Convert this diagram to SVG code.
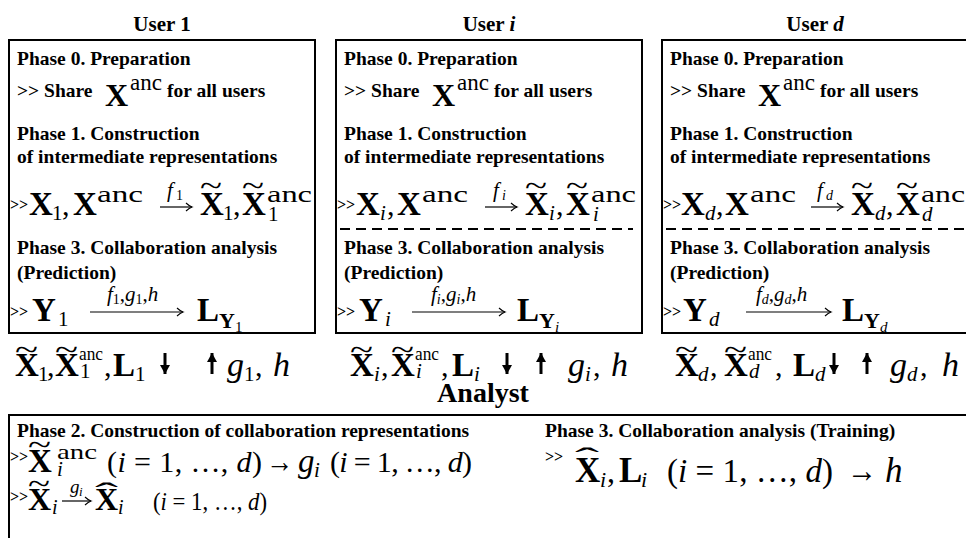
<svg xmlns="http://www.w3.org/2000/svg" width="966" height="538" viewBox="0 0 966 538">
<style>
  text { font-family: "Liberation Serif", "Times New Roman", serif; fill: #000; }
  .ttl { font-size: 21px; font-weight: bold; text-anchor: middle; }
  .h { font-size: 19.5px; font-weight: bold; }
  .gt { font-size: 16px; font-weight: bold; font-style: normal; }
  .mb { font-weight: bold; font-style: normal; }
  .mr { font-weight: normal; font-style: normal; }
  .mi { font-weight: normal; font-style: italic; }
  .box { fill: none; stroke: #000; stroke-width: 2; }
  .dash { stroke: #000; stroke-width: 2; stroke-dasharray: 10 6; }
  .xarr { stroke: #000; stroke-width: 1.2; fill: none; marker-end: url(#xhead); }
  .flow { stroke: #000; stroke-width: 3; }
  .down { marker-end: url(#bhead); }
  .up { marker-start: url(#bheadUp); }
</style>
<defs>
  <!-- thin curved arrowhead for labelled maps -->
  <marker id="xhead" markerUnits="userSpaceOnUse" viewBox="-8 -5 9 10" refX="0" refY="0" markerWidth="9" markerHeight="10" orient="auto" overflow="visible">
    <path d="M-6,-4 C-3,-1.2 -1.2,-0.4 0,0 C-1.2,0.4 -3,1.2 -6,4" fill="none" stroke="#000" stroke-width="1.1"/>
  </marker>
  <!-- solid heads for the data flow arrows -->
  <marker id="bhead" markerUnits="userSpaceOnUse" viewBox="-10 -6 11 12" refX="0" refY="0" markerWidth="11" markerHeight="12" orient="auto" overflow="visible">
    <path d="M0,0 L-9,-5 L-9,5 Z" fill="#000"/>
  </marker>
  <marker id="bheadUp" markerUnits="userSpaceOnUse" viewBox="-1 -6 11 12" refX="0" refY="0" markerWidth="11" markerHeight="12" orient="auto" overflow="visible">
    <path d="M0,0 L9,-5 L9,5 Z" fill="#000"/>
  </marker>
</defs>

<!-- ===== User 1 ===== -->
<g id="user-1">
  <text class="ttl" x="162" y="31">User 1</text>
  <rect class="box" x="9" y="40" width="306" height="293"/>
  <text class="h" x="17" y="65">Phase 0. Preparation</text>
  <text class="h" x="17" y="97">&gt;&gt; Share<tspan class="mb" x="105" y="106" font-size="32">X</tspan><tspan class="mr" x="130" y="90" font-size="23">anc</tspan><tspan x="167" y="97">for all users</tspan></text>
  <text class="h" x="17" y="140">Phase 1. Construction</text>
  <text class="h" x="17" y="163">of intermediate representations</text>
  <text font-size="33"><tspan class="gt" x="10" y="210">&gt;&gt;</tspan><tspan class="mb" x="29" y="215">X</tspan><tspan class="mr" x="52" y="220" font-size="21">1</tspan><tspan class="mr" x="62" y="215" font-size="30">,</tspan><tspan class="mb" x="73" y="215">X</tspan><tspan class="mr" x="97" y="202" font-size="23" textLength="46" lengthAdjust="spacingAndGlyphs">anc</tspan></text>
  <line class="xarr" x1="160" y1="207" x2="192" y2="207"/>
  <text class="mi" x="167" y="197" font-size="21">f<tspan class="mr" x="176" y="200" font-size="14">1</tspan></text>
  <text font-size="33"><tspan class="mr" x="200" y="196" font-size="30" textLength="22" lengthAdjust="spacingAndGlyphs">~</tspan><tspan class="mb" x="200" y="215">X</tspan><tspan class="mr" x="223" y="220" font-size="21">1</tspan><tspan class="mr" x="233" y="215" font-size="30">,</tspan><tspan class="mr" x="242" y="196" font-size="30" textLength="22" lengthAdjust="spacingAndGlyphs">~</tspan><tspan class="mb" x="242" y="215">X</tspan><tspan class="mr" x="267" y="202" font-size="23" textLength="45" lengthAdjust="spacingAndGlyphs">anc</tspan><tspan class="mr" x="268" y="221" font-size="21">1</tspan></text>
  <text class="h" x="17" y="254">Phase 3. Collaboration analysis</text>
  <text class="h" x="17" y="279">(Prediction)</text>
  <text font-size="33"><tspan class="gt" x="10" y="317">&gt;&gt;</tspan><tspan class="mb" x="32" y="321">Y</tspan><tspan class="mr" x="58" y="326" font-size="21">1</tspan></text>
  <line class="xarr" x1="90" y1="312" x2="183" y2="312"/>
  <text x="107" y="301" font-size="21"><tspan class="mi">f</tspan><tspan class="mr" font-size="14" dy="3">1</tspan><tspan class="mr" dy="-3">,</tspan><tspan class="mi">g</tspan><tspan class="mr" font-size="14" dy="3">1</tspan><tspan class="mr" dy="-3">,</tspan><tspan class="mi">h</tspan></text>
  <text font-size="33"><tspan class="mb" x="197" y="321">L</tspan><tspan class="mb" x="219" y="328" font-size="22">Y</tspan><tspan class="mr" x="235" y="332" font-size="15">1</tspan></text>
</g>

<!-- ===== User i ===== -->
<g id="user-i" transform="translate(327,0)">
  <text class="ttl" x="162" y="31">User <tspan font-style="italic">i</tspan></text>
  <rect class="box" x="9" y="40" width="306" height="293"/>
  <text class="h" x="17" y="65">Phase 0. Preparation</text>
  <text class="h" x="17" y="97">&gt;&gt; Share<tspan class="mb" x="105" y="106" font-size="32">X</tspan><tspan class="mr" x="130" y="90" font-size="23">anc</tspan><tspan x="167" y="97">for all users</tspan></text>
  <text class="h" x="17" y="140">Phase 1. Construction</text>
  <text class="h" x="17" y="163">of intermediate representations</text>
  <text font-size="33"><tspan class="gt" x="10" y="210">&gt;&gt;</tspan><tspan class="mb" x="29" y="215">X</tspan><tspan class="mi" x="53" y="220" font-size="21">i</tspan><tspan class="mr" x="60" y="215" font-size="30">,</tspan><tspan class="mb" x="70" y="215">X</tspan><tspan class="mr" x="95" y="202" font-size="23" textLength="46" lengthAdjust="spacingAndGlyphs">anc</tspan></text>
  <line class="xarr" x1="158" y1="207" x2="190" y2="207"/>
  <text class="mi" x="166" y="197" font-size="21">f<tspan x="175" y="200" font-size="14">i</tspan></text>
  <text font-size="33"><tspan class="mr" x="198" y="196" font-size="30" textLength="22" lengthAdjust="spacingAndGlyphs">~</tspan><tspan class="mb" x="198" y="215">X</tspan><tspan class="mi" x="222" y="220" font-size="21">i</tspan><tspan class="mr" x="229" y="215" font-size="30">,</tspan><tspan class="mr" x="239" y="196" font-size="30" textLength="22" lengthAdjust="spacingAndGlyphs">~</tspan><tspan class="mb" x="239" y="215">X</tspan><tspan class="mr" x="264" y="202" font-size="23" textLength="45" lengthAdjust="spacingAndGlyphs">anc</tspan><tspan class="mi" x="266" y="221" font-size="21">i</tspan></text>
  <line class="dash" x1="13" y1="229" x2="306" y2="229"/>
  <text class="h" x="17" y="254">Phase 3. Collaboration analysis</text>
  <text class="h" x="17" y="279">(Prediction)</text>
  <text font-size="33"><tspan class="gt" x="10" y="317">&gt;&gt;</tspan><tspan class="mb" x="32" y="321">Y</tspan><tspan class="mi" x="58" y="326" font-size="21">i</tspan></text>
  <line class="xarr" x1="85" y1="312" x2="178" y2="312"/>
  <text x="104" y="301" font-size="21"><tspan class="mi">f</tspan><tspan class="mi" font-size="14" dy="3">i</tspan><tspan class="mr" dy="-3">,</tspan><tspan class="mi">g</tspan><tspan class="mi" font-size="14" dy="3">i</tspan><tspan class="mr" dy="-3">,</tspan><tspan class="mi">h</tspan></text>
  <text font-size="33"><tspan class="mb" x="190" y="321">L</tspan><tspan class="mb" x="212" y="328" font-size="22">Y</tspan><tspan class="mi" x="228" y="332" font-size="15">i</tspan></text>
</g>

<!-- ===== User d ===== -->
<g id="user-d" transform="translate(653,0)">
  <text class="ttl" x="162" y="31">User <tspan font-style="italic">d</tspan></text>
  <rect class="box" x="9" y="40" width="306" height="293"/>
  <text class="h" x="17" y="65">Phase 0. Preparation</text>
  <text class="h" x="17" y="97">&gt;&gt; Share<tspan class="mb" x="105" y="106" font-size="32">X</tspan><tspan class="mr" x="130" y="90" font-size="23">anc</tspan><tspan x="167" y="97">for all users</tspan></text>
  <text class="h" x="17" y="140">Phase 1. Construction</text>
  <text class="h" x="17" y="163">of intermediate representations</text>
  <text font-size="33"><tspan class="gt" x="10" y="210">&gt;&gt;</tspan><tspan class="mb" x="28" y="215">X</tspan><tspan class="mi" x="52" y="220" font-size="21">d</tspan><tspan class="mr" x="63" y="215" font-size="30">,</tspan><tspan class="mb" x="72" y="215">X</tspan><tspan class="mr" x="97" y="202" font-size="23" textLength="46" lengthAdjust="spacingAndGlyphs">anc</tspan></text>
  <line class="xarr" x1="158" y1="207" x2="190" y2="207"/>
  <text class="mi" x="164" y="197" font-size="21">f<tspan x="173" y="200" font-size="14">d</tspan></text>
  <text font-size="33"><tspan class="mr" x="198" y="196" font-size="30" textLength="22" lengthAdjust="spacingAndGlyphs">~</tspan><tspan class="mb" x="198" y="215">X</tspan><tspan class="mi" x="222" y="220" font-size="21">d</tspan><tspan class="mr" x="233" y="215" font-size="30">,</tspan><tspan class="mr" x="243" y="196" font-size="30" textLength="22" lengthAdjust="spacingAndGlyphs">~</tspan><tspan class="mb" x="243" y="215">X</tspan><tspan class="mr" x="268" y="202" font-size="23" textLength="44" lengthAdjust="spacingAndGlyphs">anc</tspan><tspan class="mi" x="269" y="221" font-size="21">d</tspan></text>
  <line class="dash" x1="13" y1="229" x2="312" y2="229"/>
  <text class="h" x="17" y="254">Phase 3. Collaboration analysis</text>
  <text class="h" x="17" y="279">(Prediction)</text>
  <text font-size="33"><tspan class="gt" x="10" y="317">&gt;&gt;</tspan><tspan class="mb" x="30" y="321">Y</tspan><tspan class="mi" x="56" y="326" font-size="21">d</tspan></text>
  <line class="xarr" x1="93" y1="312" x2="178" y2="312"/>
  <text x="103" y="301" font-size="21"><tspan class="mi">f</tspan><tspan class="mi" font-size="14" dy="3">d</tspan><tspan class="mr" dy="-3">,</tspan><tspan class="mi">g</tspan><tspan class="mi" font-size="14" dy="3">d</tspan><tspan class="mr" dy="-3">,</tspan><tspan class="mi">h</tspan></text>
  <text font-size="33"><tspan class="mb" x="189" y="321">L</tspan><tspan class="mb" x="211" y="328" font-size="22">Y</tspan><tspan class="mi" x="227" y="332" font-size="15">d</tspan></text>
</g>

<!-- ===== Exchanges between users and analyst ===== -->
<g id="connectors">
  <!-- user 1: sends representations, receives g1 and h -->
  <text font-size="33"><tspan class="mr" x="15" y="360" font-size="30" textLength="23" lengthAdjust="spacingAndGlyphs">~</tspan><tspan class="mb" x="15" y="376">X</tspan><tspan class="mr" x="38" y="381" font-size="21">1</tspan><tspan class="mr" x="47" y="376" font-size="30">,</tspan><tspan class="mr" x="55" y="360" font-size="30" textLength="23" lengthAdjust="spacingAndGlyphs">~</tspan><tspan class="mb" x="55" y="376">X</tspan><tspan class="mr" x="79" y="360" font-size="19" textLength="24" lengthAdjust="spacingAndGlyphs">anc</tspan><tspan class="mr" x="80" y="378" font-size="21">1</tspan><tspan class="mr" x="104" y="376" font-size="30">,</tspan><tspan class="mb" x="113" y="376">L</tspan><tspan class="mr" x="135" y="381" font-size="21">1</tspan></text>
  <line class="flow down" x1="165" y1="353" x2="165" y2="374"/>
  <line class="flow up" x1="212" y1="353" x2="212" y2="374"/>
  <text font-size="34"><tspan class="mi" x="227" y="376">g</tspan><tspan class="mr" x="244" y="381" font-size="21">1</tspan><tspan class="mr" x="255" y="376" font-size="30">,</tspan><tspan class="mi" x="273" y="376">h</tspan></text>

  <!-- user i -->
  <text font-size="33"><tspan class="mr" x="350" y="360" font-size="30" textLength="23" lengthAdjust="spacingAndGlyphs">~</tspan><tspan class="mb" x="350" y="376">X</tspan><tspan class="mi" x="374" y="381" font-size="21">i</tspan><tspan class="mr" x="381" y="376" font-size="30">,</tspan><tspan class="mr" x="391" y="360" font-size="30" textLength="23" lengthAdjust="spacingAndGlyphs">~</tspan><tspan class="mb" x="391" y="376">X</tspan><tspan class="mr" x="415" y="360" font-size="19" textLength="24" lengthAdjust="spacingAndGlyphs">anc</tspan><tspan class="mi" x="416" y="378" font-size="21">i</tspan><tspan class="mr" x="441" y="376" font-size="30">,</tspan><tspan class="mb" x="452" y="376">L</tspan><tspan class="mi" x="474" y="381" font-size="21">i</tspan></text>
  <line class="flow down" x1="507" y1="353" x2="507" y2="374"/>
  <line class="flow up" x1="541" y1="353" x2="541" y2="374"/>
  <text font-size="34"><tspan class="mi" x="568" y="376">g</tspan><tspan class="mi" x="585" y="381" font-size="21">i</tspan><tspan class="mr" x="593" y="376" font-size="30">,</tspan><tspan class="mi" x="611" y="376">h</tspan></text>

  <!-- user d -->
  <text font-size="33"><tspan class="mr" x="675" y="360" font-size="30" textLength="23" lengthAdjust="spacingAndGlyphs">~</tspan><tspan class="mb" x="675" y="376">X</tspan><tspan class="mi" x="698" y="381" font-size="21">d</tspan><tspan class="mr" x="710" y="376" font-size="30">,</tspan><tspan class="mr" x="724" y="360" font-size="30" textLength="23" lengthAdjust="spacingAndGlyphs">~</tspan><tspan class="mb" x="724" y="376">X</tspan><tspan class="mr" x="748" y="360" font-size="19" textLength="24" lengthAdjust="spacingAndGlyphs">anc</tspan><tspan class="mi" x="749" y="378" font-size="21">d</tspan><tspan class="mr" x="775" y="376" font-size="30">,</tspan><tspan class="mb" x="793" y="376">L</tspan><tspan class="mi" x="815" y="381" font-size="21">d</tspan></text>
  <line class="flow down" x1="834" y1="353" x2="834" y2="374"/>
  <line class="flow up" x1="867" y1="353" x2="867" y2="374"/>
  <text font-size="34"><tspan class="mi" x="890" y="376">g</tspan><tspan class="mi" x="907" y="381" font-size="21">d</tspan><tspan class="mr" x="920" y="376" font-size="30">,</tspan><tspan class="mi" x="942" y="376">h</tspan></text>
</g>

<!-- ===== Analyst ===== -->
<g id="analyst">
  <text x="483" y="402" font-size="28" font-weight="bold" text-anchor="middle">Analyst</text>
  <rect class="box" x="9" y="415" width="962" height="140"/>
  <text class="h" x="17" y="437">Phase 2. Construction of collaboration representations</text>
  <text class="h" x="545" y="437">Phase 3. Collaboration analysis (Training)</text>

  <!-- anchor maps g_i -->
  <text font-size="33"><tspan class="gt" x="10" y="462">&gt;&gt;</tspan><tspan class="mr" x="28" y="455" font-size="30" textLength="23" lengthAdjust="spacingAndGlyphs">~</tspan><tspan class="mb" x="28" y="472">X</tspan><tspan class="mr" x="57" y="459" font-size="21" textLength="40" lengthAdjust="spacingAndGlyphs">anc</tspan><tspan class="mi" x="57" y="476" font-size="21">i</tspan></text>
  <text x="107" y="472" font-size="30" textLength="155" lengthAdjust="spacing">(<tspan font-style="italic">i</tspan> = 1, …, <tspan font-style="italic">d</tspan>)</text>
  <text font-size="33"><tspan class="mr" x="266" y="472" font-size="32" textLength="27" lengthAdjust="spacingAndGlyphs">→</tspan><tspan class="mi" x="298" y="472">g</tspan><tspan class="mi" x="314" y="477" font-size="21">i</tspan></text>
  <text x="330" y="472" font-size="30" textLength="142" lengthAdjust="spacing">(<tspan font-style="italic">i</tspan> = 1, …, <tspan font-style="italic">d</tspan>)</text>

  <!-- collaboration representations -->
  <text font-size="32"><tspan class="gt" x="10" y="502">&gt;&gt;</tspan><tspan class="mr" x="28" y="494" font-size="30" textLength="22" lengthAdjust="spacingAndGlyphs">~</tspan><tspan class="mb" x="28" y="510">X</tspan><tspan class="mi" x="52" y="514" font-size="20">i</tspan></text>
  <line class="xarr" x1="62" y1="501" x2="91" y2="501"/>
  <text class="mi" x="70" y="493" font-size="19">g<tspan x="79" y="496" font-size="13">i</tspan></text>
  <text font-size="32"><tspan class="mr" x="95" y="503" font-size="30" textLength="23" lengthAdjust="spacingAndGlyphs">ˆ</tspan><tspan class="mb" x="95" y="510">X</tspan><tspan class="mi" x="118" y="514" font-size="20">i</tspan></text>
  <text x="153" y="510" font-size="26" textLength="114" lengthAdjust="spacingAndGlyphs">(<tspan font-style="italic">i</tspan> = 1, …, <tspan font-style="italic">d</tspan>)</text>

  <!-- training of h -->
  <text font-size="35"><tspan class="gt" x="545" y="462">&gt;&gt;</tspan><tspan class="mr" x="575" y="468" font-size="30" textLength="24" lengthAdjust="spacingAndGlyphs">ˆ</tspan><tspan class="mb" x="575" y="482">X</tspan><tspan class="mi" x="600" y="487" font-size="22">i</tspan><tspan class="mr" x="607" y="482" font-size="32">,</tspan><tspan class="mb" x="619" y="482">L</tspan><tspan class="mi" x="641" y="487" font-size="22">i</tspan></text>
  <text x="667" y="482" font-size="33" textLength="166" lengthAdjust="spacing">(<tspan font-style="italic">i</tspan> = 1, …, <tspan font-style="italic">d</tspan>)</text>
  <text font-size="35"><tspan class="mr" x="847" y="482" textLength="30" lengthAdjust="spacingAndGlyphs">→</tspan><tspan class="mi" x="885" y="482">h</tspan></text>
</g>
</svg>
